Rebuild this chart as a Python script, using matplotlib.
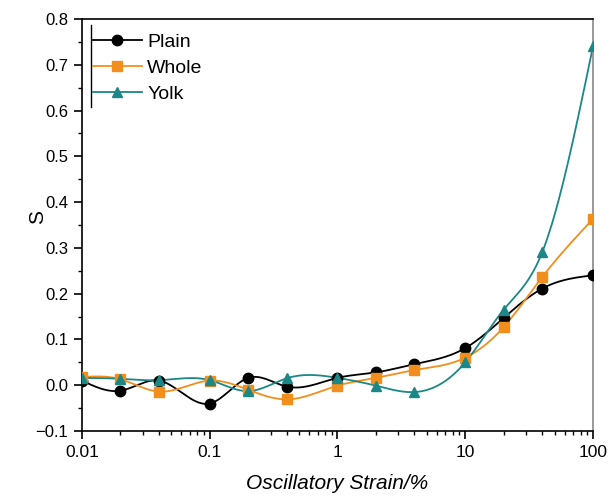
import numpy as np
import matplotlib
matplotlib.use("Agg")
import matplotlib.pyplot as plt
from matplotlib.lines import Line2D
from matplotlib.ticker import MultipleLocator, LogLocator, NullFormatter, FixedLocator, FixedFormatter

plt.rcParams['font.family'] = ['Liberation Sans', 'DejaVu Sans']

strain = [0.01, 0.02, 0.04, 0.1, 0.2, 0.4, 1, 2, 4, 10, 20, 40, 100]
plain = [0.010, -0.012, 0.010, -0.040, 0.016, -0.003, 0.016, 0.028, 0.046, 0.081, 0.147, 0.211, 0.240]
whole = [0.018, 0.013, -0.014, 0.010, -0.010, -0.031, -0.001, 0.016, 0.033, 0.060, 0.127, 0.236, 0.363]
yolk = [0.016, 0.014, 0.011, 0.011, -0.013, 0.015, 0.016, -0.001, -0.015, 0.050, 0.165, 0.290, 0.740]

x_ticks = [0.01, 0.1, 1, 10, 100]
x_tick_labels = ['0.01', '0.1', '1', '10', '100']

series = [
    ('Plain', plain, 'black', 'o'),
    ('Whole', whole, '#F28E1C', 's'),
    ('Yolk', yolk, '#1B8787', '^'),
]


def natural_spline(x, y, xs):
    """Natural cubic spline through (x, y), evaluated at xs."""
    x = np.asarray(x, float)
    y = np.asarray(y, float)
    n = len(x)
    h = np.diff(x)
    A = np.zeros((n, n))
    b = np.zeros(n)
    A[0, 0] = A[-1, -1] = 1.0
    for i in range(1, n - 1):
        A[i, i - 1] = h[i - 1]
        A[i, i] = 2 * (h[i - 1] + h[i])
        A[i, i + 1] = h[i]
        b[i] = 3 * ((y[i + 1] - y[i]) / h[i] - (y[i] - y[i - 1]) / h[i - 1])
    c = np.linalg.solve(A, b)
    bb = (y[1:] - y[:-1]) / h - h * (2 * c[:-1] + c[1:]) / 3
    d = (c[1:] - c[:-1]) / (3 * h)
    idx = np.clip(np.searchsorted(x, xs) - 1, 0, n - 2)
    dx = xs - x[idx]
    return y[idx] + bb[idx] * dx + c[idx] * dx ** 2 + d[idx] * dx ** 3


fig = plt.figure(figsize=(6.09, 4.99), dpi=100)
ax = fig.add_axes([0.1346, 0.1363, 0.8391, 0.8257])

lx = np.log10(strain)
xs = np.linspace(lx[0], lx[-1], 600)
handles = []
for name, vals, color, marker in series:
    ys = natural_spline(lx, vals, xs)
    ax.plot(10 ** xs, ys, color=color, lw=1.3, zorder=2)
    ax.plot(strain, vals, linestyle='none', marker=marker, color=color,
            markersize=7.5, zorder=3)
    handles.append(Line2D([], [], color=color, lw=1.3, marker=marker, markersize=7.5))

ax.set_xscale('log')
ax.set_xlim(0.01, 100)
ax.set_ylim(-0.1, 0.8)

ax.xaxis.set_major_locator(FixedLocator(x_ticks))
ax.xaxis.set_major_formatter(FixedFormatter(x_tick_labels))
ax.xaxis.set_minor_locator(LogLocator(base=10, subs=np.arange(2, 10), numticks=20))
ax.xaxis.set_minor_formatter(NullFormatter())
ax.yaxis.set_major_locator(MultipleLocator(0.1))
ax.yaxis.set_minor_locator(MultipleLocator(0.05))
ax.yaxis.set_major_formatter(plt.FuncFormatter(lambda v, p: f"{v:.1f}".replace('-', '\u2212')))

ax.tick_params(which='major', direction='out', length=6, width=1.2,
               top=False, right=False, pad=4)
ax.tick_params(which='minor', direction='out', length=3, width=1.0, top=False, right=False)
ax.tick_params(axis='x', which='major', labelsize=12.5)
ax.tick_params(axis='y', which='major', labelsize=12)

for side in ['left', 'bottom', 'top']:
    ax.spines[side].set_linewidth(1.2)
ax.spines['right'].set_color('#888888')
ax.spines['right'].set_linewidth(1.2)

ax.set_xlabel('Oscillatory Strain/%', fontsize=15, style='italic', labelpad=10)
ax.set_ylabel('S', fontsize=15)
ax.yaxis.set_label_coords(-0.0685, 0.52)

leg = ax.legend(handles, [s[0] for s in series], loc='upper left',
                bbox_to_anchor=(0.0215, 0.965), frameon=False, fontsize=14,
                handlelength=2.5, handletextpad=0.3, labelspacing=0.42,
                borderpad=0.0, borderaxespad=0.0)
# thin vertical rule at the left edge of the legend
ax.add_line(Line2D([0.0176, 0.0176], [0.786, 0.985], transform=ax.transAxes,
                   color='black', lw=1.0, clip_on=False))

fig.savefig('out.png', dpi=100)
